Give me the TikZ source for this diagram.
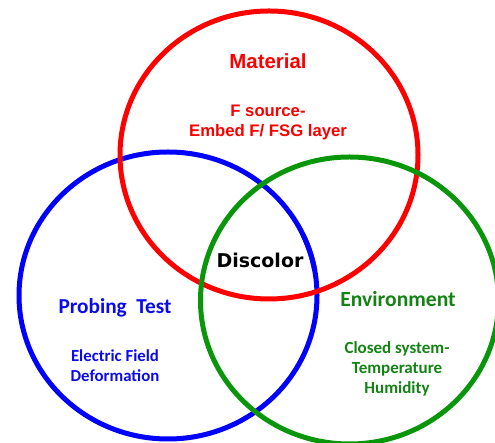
\documentclass[tikz,border=0pt]{standalone}
\usepackage{fontspec}
\setmainfont{Liberation Sans}
\newfontfamily\arialfont{Liberation Sans}
\newfontfamily\verdfont{DejaVu Sans}
\newfontfamily\calfont{Carlito}
\definecolor{ringred}{RGB}{255,0,0}
\definecolor{ringblue}{RGB}{0,0,255}
\definecolor{ringgreen}{RGB}{10,150,10}
\definecolor{txtred}{RGB}{250,0,0}
\definecolor{txtblue}{RGB}{10,10,235}
\definecolor{txtgreen}{RGB}{20,130,20}
\tikzset{
  ring/.style={line width=5pt},
  lbl/.style={anchor=base, inner sep=0pt},
}
\begin{document}
\begin{tikzpicture}[x=1pt,y=1pt]
  \useasboundingbox (0,0) rectangle (495,443);
  \begin{scope}
    \clip (0,0) rectangle (495,443);
    % the three sets
    \draw[ring, ringblue]  (168,147.5) ellipse [x radius=149, y radius=143.5];
    \draw[ring, ringred]   (269,288)   ellipse [x radius=149, y radius=144];
    \draw[ring, ringgreen] (349.5,142.5) ellipse [x radius=149, y radius=143.5];
    % blue passes over red on its right side
    \draw[ring, ringblue] (168,147.5) ++(10:149 and 143.5)
      arc [start angle=10, end angle=25, x radius=149, y radius=143.5];
  \end{scope}

  % Material
  \node[lbl, txtred, font=\arialfont\bfseries\fontsize{20.4}{24}\selectfont] (mat) at (268,374) {Material};
  \node[lbl, txtred, font=\arialfont\bfseries\fontsize{16.7}{20}\selectfont] (mat1) at (268,326) {F source-};
  \node[lbl, txtred, font=\arialfont\bfseries\fontsize{16.7}{20}\selectfont] (mat2) at (268,306) {Embed F/ FSG layer};

  % centre
  \node[lbl, black, font=\verdfont\bfseries\fontsize{19}{22}\selectfont] (dis) at (260,175) {Discolor};

  % Probing test
  \node[lbl, txtblue, font=\calfont\bfseries\fontsize{21.3}{25}\selectfont] (prb) at (115,129) {Probing\ \ Test};
  \node[lbl, txtblue, font=\calfont\bfseries\fontsize{16.8}{20}\selectfont] (prb1) at (115,81) {Electric Field};
  \node[lbl, txtblue, font=\calfont\bfseries\fontsize{16.8}{20}\selectfont] (prb2) at (115,61) {Deformation};

  % Environment
  \node[lbl, txtgreen, font=\calfont\bfseries\fontsize{21.6}{25}\selectfont] (env) at (398,136) {Environment};
  \node[lbl, txtgreen, font=\calfont\bfseries\fontsize{17}{20}\selectfont] (env1) at (397,89) {Closed system-};
  \node[lbl, txtgreen, font=\calfont\bfseries\fontsize{17}{20}\selectfont] (env2) at (397,69) {Temperature};
  \node[lbl, txtgreen, font=\calfont\bfseries\fontsize{17}{20}\selectfont] (env3) at (397,49) {Humidity};
\end{tikzpicture}
\end{document}
